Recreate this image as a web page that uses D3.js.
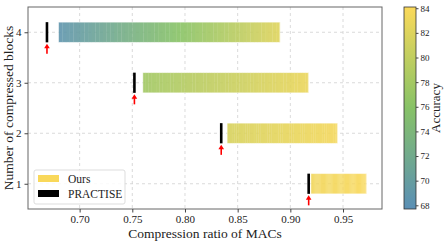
<!DOCTYPE html>
<html>
<head>
  <meta charset="utf-8">
  <script src="https://cdn.jsdelivr.net/npm/d3@7"></script>
  <style>
    body { margin: 0; background: #fff; }
    text { font-family: "Liberation Serif", "DejaVu Serif", serif; fill: #222; }
  </style>
</head>
<body>
  <svg id="chart" width="447" height="243"></svg>
  <script>
    // data
    var blocks = [1, 2, 3, 4];
    var oursStart = [0.9195, 0.840, 0.760, 0.680];
    var oursEnd = [0.972, 0.9445, 0.917, 0.890];
    var accStart = [83.4, 81.6, 77.8, 68.6];
    var accEnd = [84.0, 83.6, 83.0, 82.2];
    var practise = [0.9174, 0.8344, 0.752, 0.669];
    var xTicks = [0.70, 0.75, 0.80, 0.85, 0.90, 0.95];
    var cbTicks = [68, 70, 72, 74, 76, 78, 80, 82, 84];

    var svg = d3.select('#chart');
    var L = 28, R = 382, T = 7, B = 209;

    var x = d3.scaleLinear().domain([0.651, 0.987]).range([L, R]);
    var y = d3.scaleLinear().domain([0.5, 4.5]).range([B, T]);
    var acc = d3.scaleLinear().domain([67.7, 76, 84.1])
      .range(['#5a8fb6', '#88c366', '#fbd95a']).interpolate(d3.interpolateRgb);

    // grid
    var grid = svg.append('g').attr('stroke', '#d0d0d0').attr('stroke-dasharray', '3,3').attr('stroke-width', 0.8);
    grid.selectAll('.gx').data(xTicks).enter().append('line')
      .attr('x1', d => x(d)).attr('x2', d => x(d)).attr('y1', T).attr('y2', B);
    grid.selectAll('.gy').data(blocks).enter().append('line')
      .attr('y1', d => y(d)).attr('y2', d => y(d)).attr('x1', L).attr('x2', R);

    var barH = y(0) - y(0.4);

    // gradient bars made of thin slices
    var nSeg = 60;
    blocks.forEach(function (b, i) {
      var g = svg.append('g').attr('opacity', 0.9);
      var step = (oursEnd[i] - oursStart[i]) / nSeg;
      var accStep = (accEnd[i] - accStart[i]) / nSeg;
      for (var k = 0; k < nSeg; k++) {
        g.append('rect')
          .attr('x', x(oursStart[i] + k * step))
          .attr('width', x(oursStart[i] + (k + 1) * step) - x(oursStart[i] + k * step) + 0.3)
          .attr('y', y(b) - barH / 2)
          .attr('height', barH)
          .attr('fill', acc(accStart[i] + (k + 0.5) * accStep));
      }
      svg.append('rect')
        .attr('x', x(oursStart[i])).attr('width', x(oursEnd[i]) - x(oursStart[i]))
        .attr('y', y(b) - barH / 2).attr('height', barH)
        .attr('fill', 'none').attr('stroke', '#fff').attr('stroke-opacity', 0.6).attr('stroke-width', 0.8);

      // PRACTISE marker
      svg.append('rect')
        .attr('x', x(practise[i]) - 1.3).attr('width', 2.6)
        .attr('y', y(b) - barH / 2).attr('height', barH)
        .attr('fill', '#000');

      // red arrow
      var ax = x(practise[i]), ay = y(b) + barH / 2 + 1.5;
      svg.append('line')
        .attr('x1', ax).attr('x2', ax).attr('y1', ay + 3).attr('y2', ay + 10)
        .attr('stroke', '#ff0000').attr('stroke-width', 1.6);
      svg.append('path')
        .attr('d', 'M' + ax + ',' + ay + ' L' + (ax - 2.8) + ',' + (ay + 4.5) + ' L' + (ax + 2.8) + ',' + (ay + 4.5) + 'Z')
        .attr('fill', '#ff0000');
    });

    // frame
    svg.append('rect').attr('x', L).attr('y', T).attr('width', R - L).attr('height', B - T)
      .attr('fill', 'none').attr('stroke', '#666').attr('stroke-width', 1);

    // axes
    var xAxis = svg.append('g').attr('transform', 'translate(0,' + B + ')')
      .call(d3.axisBottom(x).tickValues(xTicks).tickFormat(d3.format('.2f')).tickSize(3.5).tickPadding(3));
    var yAxis = svg.append('g').attr('transform', 'translate(' + L + ',0)')
      .call(d3.axisLeft(y).tickValues(blocks).tickFormat(d3.format('d')).tickSize(3.5).tickPadding(3));
    [xAxis, yAxis].forEach(function (a) {
      a.select('.domain').remove();
      a.selectAll('.tick line').attr('stroke', '#444');
      a.selectAll('.tick text').attr('font-size', 11).attr('font-family', 'Liberation Serif').attr('fill', '#222');
    });

    svg.append('text').attr('x', (L + R) / 2).attr('y', 238).attr('text-anchor', 'middle')
      .attr('font-size', 13.5).text('Compression ratio of MACs');
    svg.append('text').attr('transform', 'translate(13,' + ((T + B) / 2) + ') rotate(-90)')
      .attr('text-anchor', 'middle').attr('font-size', 13.5).text('Number of compressed blocks');

    // legend
    var lg = svg.append('g').attr('transform', 'translate(34,170)');
    lg.append('rect').attr('width', 91).attr('height', 34).attr('rx', 2)
      .attr('fill', '#fff').attr('fill-opacity', 0.85).attr('stroke', '#ddd');
    lg.append('rect').attr('x', 4).attr('y', 5).attr('width', 21).attr('height', 7).attr('fill', '#f9d85a');
    lg.append('rect').attr('x', 4).attr('y', 20).attr('width', 21).attr('height', 7).attr('fill', '#000');
    lg.append('text').attr('x', 34).attr('y', 12.5).attr('font-size', 11.5).text('Ours');
    lg.append('text').attr('x', 34).attr('y', 28).attr('font-size', 11.5).text('PRACTISE');

    // colorbar
    var cbL = 404, cbW = 12;
    var cy = d3.scaleLinear().domain([67.7, 84.1]).range([209, 7]);
    var defs = svg.append('defs');
    var grad = defs.append('linearGradient').attr('id', 'cb').attr('x1', 0).attr('x2', 0).attr('y1', 1).attr('y2', 0);
    d3.range(0, 1.0001, 0.1).forEach(function (t) {
      grad.append('stop').attr('offset', t).attr('stop-color', acc(67.7 + t * (84.1 - 67.7)));
    });
    svg.append('rect').attr('x', cbL).attr('y', 7).attr('width', cbW).attr('height', 202)
      .attr('fill', 'url(#cb)');
    svg.append('rect').attr('x', cbL).attr('y', 7).attr('width', cbW).attr('height', 202)
      .attr('fill', 'none').attr('stroke', '#333').attr('stroke-width', 0.8);
    var cbAxis = svg.append('g').attr('transform', 'translate(' + (cbL + cbW) + ',0)')
      .call(d3.axisRight(cy).tickValues(cbTicks).tickSize(2.5).tickPadding(2));
    cbAxis.select('.domain').remove();
    cbAxis.selectAll('.tick line').attr('stroke', '#444');
    cbAxis.selectAll('.tick text').attr('font-size', 9).attr('font-family', 'Liberation Serif').attr('fill', '#222');
    svg.append('text').attr('transform', 'translate(440,108) rotate(-90)')
      .attr('text-anchor', 'middle').attr('font-size', 13).text('Accuracy');
  </script>
</body>
</html>
